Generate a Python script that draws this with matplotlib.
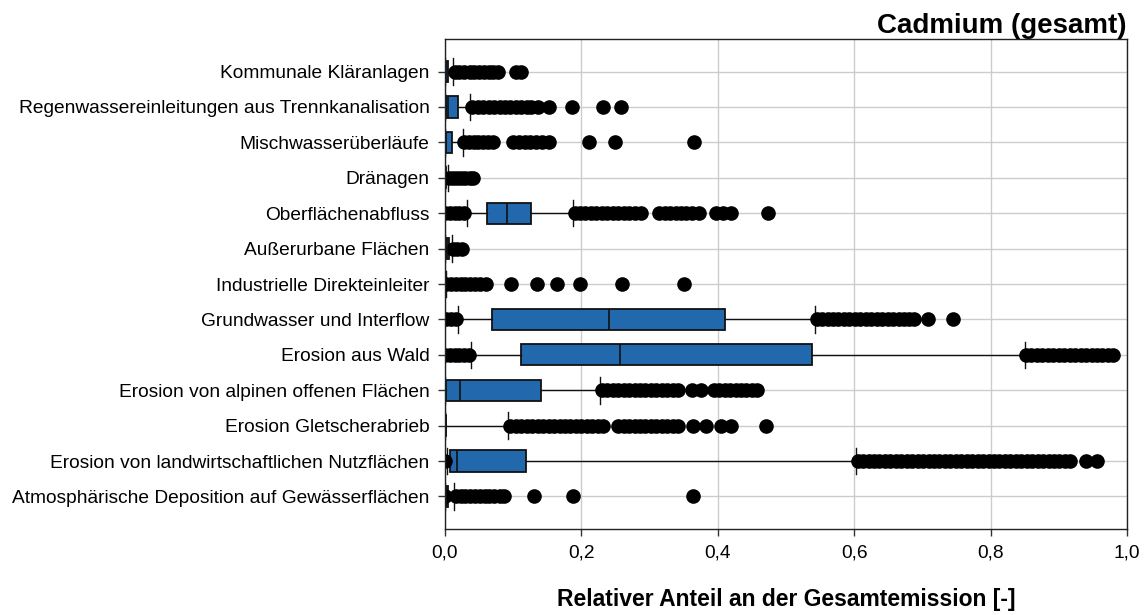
import matplotlib.pyplot as plt

plt.rcParams['font.family'] = ['Liberation Sans', 'DejaVu Sans']

# sources, top to bottom
labels = [
    'Kommunale Kläranlagen',
    'Regenwassereinleitungen aus Trennkanalisation',
    'Mischwasserüberläufe',
    'Dränagen',
    'Oberflächenabfluss',
    'Außerurbane Flächen',
    'Industrielle Direkteinleiter',
    'Grundwasser und Interflow',
    'Erosion aus Wald',
    'Erosion von alpinen offenen Flächen',
    'Erosion Gletscherabrieb',
    'Erosion von landwirtschaftlichen Nutzflächen',
    'Atmosphärische Deposition auf Gewässerflächen',
]

# box statistics per source
whislo = [0.0, 0.0, 0.0, 0.0, 0.032, 0.0, 0.0, 0.019, 0.038, 0.0, 0.0, 0.003, 0.0005]
q1 = [0.0, 0.001, 0.001, 0.0, 0.062, 0.001, 0.0, 0.069, 0.111, 0.001, 0.0, 0.008, 0.001]
med = [0.001, 0.004, 0.002, 0.0005, 0.091, 0.003, 0.0, 0.24, 0.257, 0.022, 0.001, 0.017, 0.002]
q3 = [0.004, 0.019, 0.010, 0.002, 0.126, 0.006, 0.001, 0.41, 0.538, 0.141, 0.002, 0.119, 0.005]
whishi = [0.012, 0.037, 0.026, 0.005, 0.187, 0.010, 0.001, 0.542, 0.85, 0.227, 0.092, 0.602, 0.013]

# outliers per source
fl_kommunal = [0.014, 0.021, 0.028, 0.036, 0.043, 0.05, 0.057, 0.064, 0.071, 0.078, 0.104, 0.112]
fl_regen = [0.04, 0.048, 0.056, 0.064, 0.072, 0.08, 0.088, 0.096, 0.104, 0.112, 0.12, 0.126,
            0.136, 0.152, 0.186, 0.232, 0.258]
fl_misch = [0.028, 0.035, 0.042, 0.049, 0.056, 0.063, 0.07, 0.1, 0.108, 0.117, 0.125, 0.133,
            0.142, 0.153, 0.211, 0.249, 0.365]
fl_draen = [0.006, 0.012, 0.018, 0.024, 0.03, 0.036, 0.041]
fl_ober = [0.0, 0.007, 0.014, 0.021, 0.028,
           0.19, 0.198, 0.206, 0.214, 0.222, 0.23, 0.238, 0.246, 0.254, 0.262, 0.27, 0.278,
           0.287, 0.314, 0.322, 0.33, 0.338, 0.346, 0.354, 0.362, 0.372, 0.397, 0.408, 0.42,
           0.474]
fl_ausser = [0.012, 0.018, 0.025]
fl_indust = [0.002, 0.009, 0.016, 0.023, 0.03, 0.037, 0.044, 0.051, 0.06, 0.097, 0.135,
             0.164, 0.198, 0.26, 0.35]
fl_grund = [0.002, 0.009, 0.016,
            0.545, 0.553, 0.561, 0.569, 0.577, 0.585, 0.593, 0.601, 0.609, 0.617, 0.625,
            0.633, 0.641, 0.649, 0.657, 0.665, 0.673, 0.681, 0.688, 0.708, 0.745]
fl_wald = [0.0, 0.007, 0.014, 0.021, 0.028, 0.035,
           0.852, 0.86, 0.868, 0.876, 0.884, 0.892, 0.9, 0.908, 0.916, 0.924, 0.932, 0.94,
           0.948, 0.956, 0.964, 0.972, 0.98]
fl_alpin = [0.23, 0.238, 0.246, 0.254, 0.262, 0.27, 0.278, 0.286, 0.294, 0.302, 0.31, 0.318,
            0.326, 0.334, 0.342, 0.362, 0.376, 0.394, 0.402, 0.41, 0.418, 0.426, 0.434, 0.442,
            0.45, 0.458]
fl_glets = [0.096, 0.104, 0.112, 0.12, 0.128, 0.136, 0.144, 0.152, 0.16, 0.168, 0.176, 0.184,
            0.192, 0.2, 0.208, 0.216, 0.224, 0.232, 0.254, 0.262, 0.27, 0.278, 0.286, 0.294,
            0.302, 0.31, 0.318, 0.326, 0.334, 0.342, 0.363, 0.382, 0.405, 0.419, 0.47]
fl_landw = [0.0,
            0.605, 0.613, 0.621, 0.629, 0.637, 0.645, 0.653, 0.661, 0.669, 0.677, 0.685, 0.693,
            0.701, 0.709, 0.717, 0.725, 0.733, 0.741, 0.749, 0.757, 0.765, 0.773, 0.781, 0.789,
            0.797, 0.805, 0.813, 0.821, 0.829, 0.837, 0.845, 0.853, 0.861, 0.869, 0.877, 0.885,
            0.893, 0.901, 0.909, 0.917, 0.94, 0.956]
fl_atmos = [0.0, 0.016, 0.023, 0.03, 0.037, 0.044, 0.051, 0.058, 0.065, 0.072, 0.08, 0.086,
            0.131, 0.187, 0.364]

fliers = [fl_kommunal, fl_regen, fl_misch, fl_draen, fl_ober, fl_ausser, fl_indust,
          fl_grund, fl_wald, fl_alpin, fl_glets, fl_landw, fl_atmos]

xticks = [0.0, 0.2, 0.4, 0.6, 0.8, 1.0]
xticklabels = ['0,0', '0,2', '0,4', '0,6', '0,8', '1,0']

stats = []
for i in range(len(labels)):
    stats.append(dict(label=labels[i], whislo=whislo[i], q1=q1[i], med=med[i],
                      q3=q3[i], whishi=whishi[i], fliers=fliers[i]))

fig = plt.figure(figsize=(11.46, 6.15), dpi=100)
ax = fig.add_axes([0.3883, 0.1398, 0.5951, 0.7968])

positions = list(range(1, len(labels) + 1))
ax.bxp(stats, positions=positions, widths=0.6, capwidths=0.75,
       orientation='horizontal', patch_artist=True,
       boxprops=dict(facecolor='#2268ad', edgecolor='#111111', linewidth=1.3),
       medianprops=dict(color='#111111', linewidth=1.2),
       whiskerprops=dict(color='#111111', linewidth=1.0),
       capprops=dict(color='#111111', linewidth=1.0),
       flierprops=dict(marker='o', markerfacecolor='black', markeredgecolor='black',
                       markersize=9.5))

ax.set_xlim(0, 1)
ax.set_ylim(13.92, 0.08)
ax.set_xticks(xticks)
ax.set_xticklabels(xticklabels)
ax.set_yticks(positions)
ax.set_yticklabels(labels)

ax.set_axisbelow(True)
ax.grid(True, color='#cccccc', linewidth=1.0)
ax.tick_params(axis='both', direction='out', length=5, width=1.0, colors='#333333',
               labelsize=13.75, labelcolor='black', pad=6)
for s in ax.spines.values():
    s.set_color('#222222')
    s.set_linewidth(1.0)

ax.set_xlabel('Relativer Anteil an der Gesamtemission [-]', fontsize=16.5,
              fontweight='bold', labelpad=19)
ax.set_title('Cadmium (gesamt)', loc='right', fontsize=20, fontweight='bold', pad=3)

fig.savefig('out.png', dpi=100)
